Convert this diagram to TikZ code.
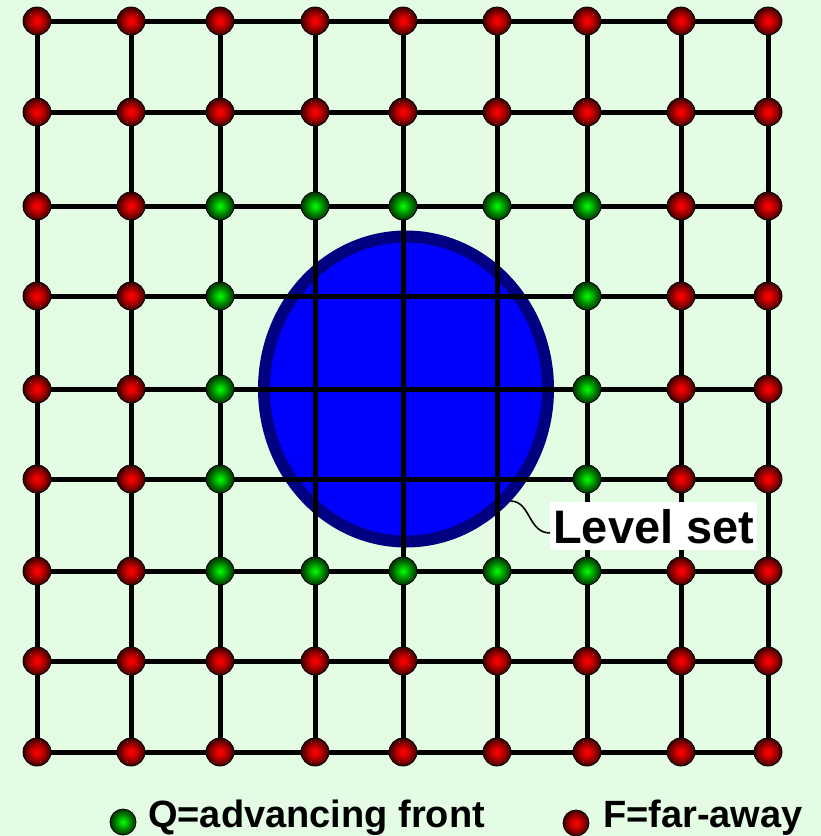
\documentclass[tikz,border=0pt]{standalone}
\usepackage{fontspec}
\setmainfont{Liberation Sans}
\usetikzlibrary{shapes.geometric}
\definecolor{bgcol}{RGB}{228,252,228}
\definecolor{navy}{RGB}{0,0,128}
\pgfdeclareradialshading{redballsh}{\pgfpoint{0bp}{0bp}}{color(0bp)=(red!100); color(5bp)=(red!92!black); color(15bp)=(red!60!black); color(25bp)=(red!22!black); color(50bp)=(red!22!black)}
\pgfdeclareradialshading{greenballsh}{\pgfpoint{0bp}{0bp}}{color(0bp)=(green!100); color(5bp)=(green!85!black); color(15bp)=(green!50!black); color(25bp)=(green!20!black); color(50bp)=(green!20!black)}
\tikzset{
  gridline/.style={line width=5pt, black},
  ballbase/.style={circle, minimum size=28pt, inner sep=0pt, draw=black, line width=0.8pt},
  redball/.style={ballbase, shading=redballsh},
  greenball/.style={ballbase, shading=greenballsh},
  legendtext/.style={anchor=base west, inner sep=0pt, font=\fontsize{38}{38}\selectfont\bfseries},
}
\begin{document}
\begin{tikzpicture}[x=1pt,y=-1pt]
\useasboundingbox (0,0) rectangle (821,836);
\fill[bgcol] (0,0) rectangle (821,836);
\foreach \x [count=\i from 0] in {37,131,220,315,403,497,587,681,768}{
  \foreach \y [count=\j from 0] in {21,112,206,296,389,479,571,661,752}{
    \coordinate (g-\i-\j) at (\x,\y);
  }
}
\node[ellipse, draw=navy, fill=blue, line width=12pt, minimum width=284pt, minimum height=305pt, inner sep=0pt] (circ) at (406,389) {};
\foreach \k in {0,...,8}{
  \draw[gridline] (g-0-\k) -- (g-8-\k);
  \draw[gridline] (g-\k-0) -- (g-\k-8);
}
\foreach \i in {0,...,8}{
  \foreach \j in {0,...,8}{
    \pgfmathtruncatemacro\inner{(\i>2)&&(\i<6)&&(\j>2)&&(\j<6)}
    \pgfmathtruncatemacro\grn{(\i>1)&&(\i<7)&&(\j>1)&&(\j<7)}
    \ifnum\inner=0
      \ifnum\grn=1
        \node[greenball] (n-\i-\j) at (g-\i-\j) {};
      \else
        \node[redball] (n-\i-\j) at (g-\i-\j) {};
      \fi
    \fi
  }
}
\node[fill=white, anchor=base west, inner xsep=3pt, inner ysep=7pt, text depth=0pt, font=\fontsize{47}{47}\selectfont\bfseries] (lbl) at (550,543) {Level set};
\draw[line width=1.6pt] (circ.south east) .. controls +(20,0) and +(-22,0) .. ([yshift=-7pt]lbl.west);
\node[greenball, minimum size=26pt] (lq) at (123,822) {};
\node[legendtext] (tq) at (148,827) {Q=advancing front};
\node[redball, minimum size=26pt] (lf) at (576,823) {};
\node[legendtext] (tf) at (603,827) {F=far-away};
\end{tikzpicture}
\end{document}
